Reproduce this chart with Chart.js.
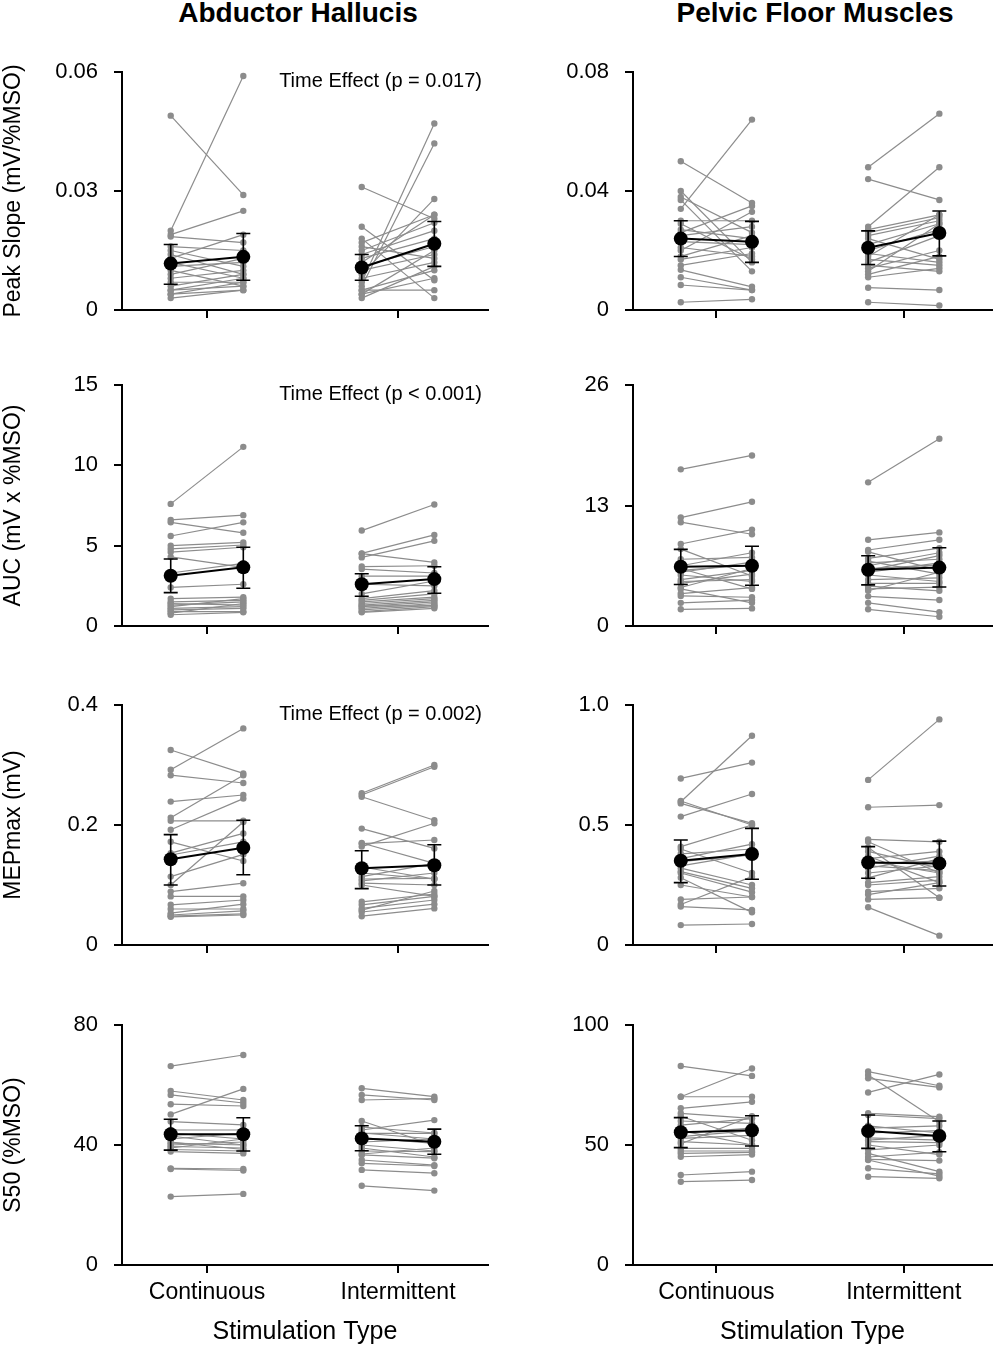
<!DOCTYPE html>
<html>
<head>
<meta charset="utf-8">
<script src="https://cdn.jsdelivr.net/npm/chart.js@4.4.0/dist/chart.umd.min.js"></script>
<style>
  html, body { margin: 0; padding: 0; background: #fff; }
  #page { position: relative; width: 999px; height: 1350px; overflow: hidden; font-family: "Liberation Sans", Arial, sans-serif; }
  .colTitle { position: absolute; top: 0; width: 400px; text-align: center; font-weight: bold; font-size: 28px; line-height: 26px; color: #000; }
  canvas { position: absolute; }
</style>
</head>
<body>
<div id="page">
  <div class="colTitle" style="left:98px">Abductor Hallucis</div>
  <div class="colTitle" style="left:615px">Pelvic Floor Muscles</div>
</div>
<script>
// categories / labels
const categories = ['Continuous', 'Intermittent']
const measures = ['Peak Slope (mV/%MSO)', 'AUC (mV x %MSO)', 'MEPmax (mV)', 'S50 (%MSO)']
const timeEffects = ['Time Effect (p = 0.017)', 'Time Effect (p < 0.001)', 'Time Effect (p = 0.002)', '']

// y ticks per row: [abductor, pelvic]
const ahTicks = [[0, 0.03, 0.06], [0, 5, 10, 15], [0, 0.2, 0.4], [0, 40, 80]]
const ahTickLabels = [['0', '0.03', '0.06'], ['0', '5', '10', '15'], ['0', '0.2', '0.4'], ['0', '40', '80']]
const pfTicks = [[0, 0.04, 0.08], [0, 13, 26], [0, 0.5, 1.0], [0, 50, 100]]
const pfTickLabels = [['0', '0.04', '0.08'], ['0', '13', '26'], ['0', '0.5', '1.0'], ['0', '50', '100']]

// --- Peak slope ---
const ahSlopeContPre  = [0.049, 0.020, 0.019, 0.0185, 0.016, 0.015, 0.014, 0.013, 0.012, 0.011, 0.010, 0.009, 0.008, 0.007, 0.006, 0.005, 0.005, 0.004, 0.003, 0.004]
const ahSlopeContPost = [0.029, 0.059, 0.025, 0.017, 0.015, 0.011, 0.009, 0.019, 0.008, 0.012, 0.006, 0.013, 0.010, 0.007, 0.009, 0.006, 0.008, 0.005, 0.005, 0.007]
const ahSlopeIntPre   = [0.031, 0.021, 0.018, 0.017, 0.016, 0.015, 0.014, 0.013, 0.012, 0.011, 0.010, 0.009, 0.008, 0.007, 0.006, 0.005, 0.005, 0.004, 0.004, 0.003]
const ahSlopeIntPost  = [0.023, 0.0075, 0.003, 0.024, 0.013, 0.022, 0.020, 0.018, 0.024, 0.016, 0.014, 0.028, 0.012, 0.047, 0.042, 0.010, 0.005, 0.015, 0.008, 0.011]
const ahSlopeMean = [0.0117, 0.0134, 0.0107, 0.0167]
const ahSlopeErr  = [[0.0065, 0.0165], [0.0075, 0.0193], [0.0075, 0.014], [0.011, 0.0223]]

const pfSlopeContPre  = [0.050, 0.040, 0.038, 0.037, 0.034, 0.030, 0.027, 0.026, 0.025, 0.023, 0.020, 0.018, 0.017, 0.015, 0.0135, 0.011, 0.0084, 0.0026, 0.021, 0.029]
const pfSlopeContPost = [0.036, 0.016, 0.026, 0.013, 0.064, 0.030, 0.024, 0.035, 0.028, 0.022, 0.033, 0.025, 0.021, 0.019, 0.0078, 0.0067, 0.0067, 0.0036, 0.018, 0.017]
const pfSlopeIntPre   = [0.048, 0.044, 0.028, 0.027, 0.026, 0.025, 0.024, 0.022, 0.020, 0.019, 0.017, 0.015, 0.014, 0.013, 0.012, 0.011, 0.0075, 0.0026, 0.016, 0.018]
const pfSlopeIntPost  = [0.066, 0.037, 0.048, 0.032, 0.031, 0.030, 0.017, 0.029, 0.027, 0.016, 0.015, 0.013, 0.020, 0.029, 0.018, 0.014, 0.0067, 0.0015, 0.025, 0.032]
const pfSlopeMean = [0.024, 0.0229, 0.0209, 0.0259]
const pfSlopeErr  = [[0.018, 0.030], [0.016, 0.0298], [0.0153, 0.0266], [0.0182, 0.0333]]

// --- AUC ---
const ahAucContPre  = [7.6, 6.6, 6.45, 5.6, 5.0, 4.8, 4.6, 4.3, 3.3, 2.4, 1.7, 1.5, 1.4, 1.3, 1.2, 1.1, 1.0, 0.9, 0.8, 0.7]
const ahAucContPost = [11.15, 6.9, 5.8, 6.45, 5.2, 5.04, 4.9, 3.65, 3.9, 2.6, 1.8, 1.6, 1.3, 1.5, 1.7, 1.2, 1.1, 0.9, 1.4, 0.85]
const ahAucIntPre   = [5.94, 4.52, 4.27, 4.5, 3.7, 3.54, 3.1, 2.6, 2.0, 1.6, 1.5, 1.4, 1.3, 1.2, 1.1, 1.0, 0.9, 0.85, 1.7, 1.25]
const ahAucIntPost  = [7.56, 5.67, 5.3, 3.96, 3.75, 3.3, 3.1, 2.5, 2.8, 2.0, 1.8, 1.7, 1.6, 1.5, 1.4, 1.3, 1.2, 1.1, 2.2, 1.25]
const ahAucMean = [3.13, 3.65, 2.6, 2.92]
const ahAucErr  = [[2.08, 4.17], [2.35, 4.9], [1.85, 3.25], [2.04, 3.69]]

const pfAucContPre  = [16.9, 11.7, 11.2, 8.85, 8.3, 6.5, 6.0, 5.5, 5.0, 4.6, 4.15, 3.5, 3.25, 2.5, 1.8, 6.2, 5.8, 4.8, 4.0, 7.2]
const pfAucContPost = [18.4, 13.4, 9.9, 10.4, 5.4, 7.9, 6.6, 4.8, 6.0, 5.6, 6.2, 4.15, 3.1, 2.8, 1.9, 4.0, 6.9, 5.0, 2.5, 7.4]
const pfAucIntPre   = [15.5, 9.3, 8.2, 8.0, 7.3, 6.5, 6.0, 5.5, 5.0, 4.6, 4.3, 3.8, 3.2, 2.5, 1.8, 6.2, 5.8, 7.0, 4.0, 6.8]
const pfAucIntPost  = [20.2, 10.1, 9.3, 6.0, 8.4, 7.9, 7.6, 4.8, 5.2, 4.6, 3.8, 5.8, 2.8, 1.5, 1.0, 6.6, 6.8, 5.6, 4.2, 7.2]
const pfAucMean = [6.4, 6.5, 6.07, 6.3]
const pfAucErr  = [[4.48, 8.27], [4.4, 8.6], [4.44, 7.58], [4.2, 8.45]]

// --- MEPmax ---
const ahMepContPre  = [0.325, 0.292, 0.283, 0.239, 0.212, 0.207, 0.192, 0.153, 0.150, 0.114, 0.100, 0.089, 0.081, 0.067, 0.053, 0.050, 0.048, 0.047, 0.172, 0.060]
const ahMepContPost = [0.286, 0.361, 0.27, 0.25, 0.283, 0.207, 0.244, 0.186, 0.172, 0.151, 0.205, 0.103, 0.081, 0.075, 0.068, 0.057, 0.052, 0.050, 0.14, 0.060]
const ahMepIntPre   = [0.253, 0.247, 0.250, 0.194, 0.169, 0.164, 0.114, 0.110, 0.103, 0.12, 0.067, 0.061, 0.055, 0.048, 0.170, 0.100, 0.107, 0.130, 0.058, 0.072]
const ahMepIntPost  = [0.300, 0.208, 0.297, 0.161, 0.175, 0.203, 0.136, 0.111, 0.10, 0.11, 0.081, 0.075, 0.068, 0.061, 0.136, 0.081, 0.12, 0.11, 0.09, 0.085]
const ahMepMean = [0.143, 0.162, 0.128, 0.133]
const ahMepErr  = [[0.100, 0.184], [0.117, 0.208], [0.094, 0.157], [0.1, 0.167]]

const pfMepContPre  = [0.694, 0.597, 0.59, 0.535, 0.41, 0.40, 0.347, 0.33, 0.306, 0.30, 0.25, 0.19, 0.169, 0.16, 0.083, 0.32, 0.36, 0.28, 0.60, 0.38]
const pfMepContPost = [0.76, 0.872, 0.507, 0.629, 0.5, 0.30, 0.375, 0.38, 0.236, 0.22, 0.2, 0.2, 0.285, 0.146, 0.0875, 0.25, 0.42, 0.136, 0.50, 0.40]
const pfMepIntPre   = [0.688, 0.574, 0.44, 0.43, 0.406, 0.39, 0.36, 0.34, 0.32, 0.30, 0.28, 0.26, 0.222, 0.21, 0.19, 0.157, 0.35, 0.37, 0.33, 0.25]
const pfMepIntPost  = [0.94, 0.583, 0.43, 0.3, 0.197, 0.32, 0.39, 0.35, 0.37, 0.33, 0.36, 0.285, 0.236, 0.26, 0.197, 0.039, 0.3, 0.26, 0.31, 0.27]
const pfMepMean = [0.351, 0.379, 0.344, 0.34]
const pfMepErr  = [[0.26, 0.4375], [0.274, 0.486], [0.278, 0.41], [0.246, 0.433]]

// --- S50 ---
const ahS50ContPre  = [66.3, 58, 56.7, 53.6, 50.2, 47.8, 44, 42, 40.6, 40, 39.5, 38.5, 37.8, 32.2, 32, 22.8, 41, 39, 45, 43]
const ahS50ContPost = [70, 55, 54, 53, 58.7, 46.7, 42, 44, 40, 41, 39, 38, 37.2, 32, 31.5, 23.7, 38.5, 42, 45, 40]
const ahS50IntPre   = [58.9, 56.7, 55, 48, 45, 43.9, 42, 41, 40, 39, 38, 36.7, 35, 33.9, 31.7, 26.4, 44, 42.5, 37, 46]
const ahS50IntPost  = [56.1, 55, 55.5, 40, 48.3, 43.9, 41, 42, 38, 36, 37.8, 35.6, 33.3, 33, 30.6, 24.8, 42, 40.5, 39, 44]
const ahS50Mean = [43.6, 43.6, 42.2, 41.1]
const ahS50Err  = [[38.3, 48.6], [38, 49.1], [38.1, 46.4], [36.9, 45.3]]

const pfS50ContPre  = [82.9, 70.1, 70.1, 65.3, 63.2, 62, 58.3, 55, 52.8, 51.4, 48.6, 47.5, 46.5, 45.1, 37.5, 34.7, 60, 53.5, 50.5, 56]
const pfS50ContPost = [78.8, 81.9, 70.1, 68, 61.1, 52, 61, 57, 54, 50, 48.6, 47.5, 46.9, 46, 38.9, 35.4, 59, 56, 62, 50]
const pfS50IntPre   = [80.6, 79.2, 77.8, 71.9, 63.2, 62.5, 58, 55, 53, 51.4, 48, 46.5, 45, 44, 43.75, 40.3, 36.8, 52, 50, 57]
const pfS50IntPost  = [74.7, 59.7, 74, 79.4, 61.8, 61, 55, 56, 52, 51, 50, 38.9, 47, 43.5, 37, 38, 36.1, 54, 46, 58]
const pfS50Mean = [55.3, 56.1, 55.8, 53.8]
const pfS50Err  = [[48.9, 61.4], [49.6, 62.2], [48.6, 62.5], [47.2, 60]]

;(function () {
  'use strict'

  const FONT = '"Liberation Sans", Arial, sans-serif'
  const GRAY = '#8c8c8c'
  const catX = [1, 2]
  const OFF = 0.19 // pre/post offset around category centre
  const meanX = [1 - OFF, 1 + OFF, 2 - OFF, 2 + OFF]

  Chart.defaults.font.family = FONT
  Chart.defaults.color = '#000'

  // panels built from the arrays above: [row][col]
  const panelRows = [
    [[ahSlopeContPre, ahSlopeContPost, ahSlopeIntPre, ahSlopeIntPost, ahSlopeMean, ahSlopeErr],
     [pfSlopeContPre, pfSlopeContPost, pfSlopeIntPre, pfSlopeIntPost, pfSlopeMean, pfSlopeErr]],
    [[ahAucContPre, ahAucContPost, ahAucIntPre, ahAucIntPost, ahAucMean, ahAucErr],
     [pfAucContPre, pfAucContPost, pfAucIntPre, pfAucIntPost, pfAucMean, pfAucErr]],
    [[ahMepContPre, ahMepContPost, ahMepIntPre, ahMepIntPost, ahMepMean, ahMepErr],
     [pfMepContPre, pfMepContPost, pfMepIntPre, pfMepIntPost, pfMepMean, pfMepErr]],
    [[ahS50ContPre, ahS50ContPost, ahS50IntPre, ahS50IntPost, ahS50Mean, ahS50Err],
     [pfS50ContPre, pfS50ContPost, pfS50IntPre, pfS50IntPost, pfS50Mean, pfS50Err]]
  ]

  // layout (pixels)
  const colBox = [{ left: 0, width: 495, yWidth: 122, padRight: 7 }, { left: 510, width: 489, yWidth: 123, padRight: 0 }]
  const rowTop = [72, 385, 705, 1025]
  const rowBottom = [310, 626, 945, 1265]
  const PAD_TOP = 32 // y tick padding adds to the scale's own top padding

  // gray subject lines sit under the means (higher order = drawn earlier)
  function pairSets(pre, post, cx) {
    return pre.map((v, i) => ({
      data: [{ x: cx - OFF, y: v }, { x: cx + OFF, y: post[i] }],
      order: 2,
      showLine: true, borderColor: GRAY, backgroundColor: GRAY, borderWidth: 1.2,
      pointRadius: 3.2, pointBorderWidth: 0, pointHoverRadius: 3.2
    }))
  }

  function meanSet(mean, k) {
    return {
      data: [{ x: meanX[k], y: mean[k] }, { x: meanX[k + 1], y: mean[k + 1] }],
      order: 0,
      showLine: true, borderColor: '#000', backgroundColor: '#000', borderWidth: 2,
      pointRadius: 7, pointBorderWidth: 0, pointHoverRadius: 7
    }
  }

  function errorPlugin(err, note) {
    return {
      id: 'errBars',
      afterDatasetsDraw(chart) {
        const { ctx, chartArea, scales: { x, y } } = chart
        ctx.save()
        ctx.strokeStyle = '#000'
        ctx.lineWidth = 1.6
        err.forEach(([lo, hi], k) => {
          const px = x.getPixelForValue(meanX[k])
          const yl = y.getPixelForValue(lo), yh = y.getPixelForValue(hi)
          ctx.beginPath()
          ctx.moveTo(px, yl); ctx.lineTo(px, yh)
          ctx.moveTo(px - 7, yl); ctx.lineTo(px + 7, yl)
          ctx.moveTo(px - 7, yh); ctx.lineTo(px + 7, yh)
          ctx.stroke()
        })
        if (note) {
          ctx.fillStyle = '#000'
          ctx.font = '20px ' + FONT
          ctx.textAlign = 'right'
          ctx.textBaseline = 'middle'
          ctx.fillText(note, chartArea.right - 6, chartArea.top + 9.5)
        }
        ctx.restore()
      }
    }
  }

  const page = document.getElementById('page')

  panelRows.forEach((row, r) => {
    row.forEach((p, c) => {
      const [contPre, contPost, intPre, intPost, mean, err] = p
      const box = colBox[c]
      const bottomRow = r === panelRows.length - 1
      const xHeight = bottomRow ? 1350 - rowBottom[r] : 32
      const top = rowTop[r] - PAD_TOP
      const height = PAD_TOP + (rowBottom[r] - rowTop[r]) + xHeight
      const ticks = c === 0 ? ahTicks[r] : pfTicks[r]
      const tickLabels = c === 0 ? ahTickLabels[r] : pfTickLabels[r]

      const canvas = document.createElement('canvas')
      canvas.width = box.width
      canvas.height = height
      canvas.style.left = box.left + 'px'
      canvas.style.top = top + 'px'
      canvas.style.width = box.width + 'px'
      canvas.style.height = height + 'px'
      page.appendChild(canvas)

      const datasets = pairSets(contPre, contPost, catX[0])
        .concat(pairSets(intPre, intPost, catX[1]))
        .concat([meanSet(mean, 0), meanSet(mean, 2)])

      // eslint-disable-next-line no-undef
      new Chart(canvas.getContext('2d'), {
        type: 'scatter',
        data: { datasets },
        options: {
          responsive: false,
          animation: false,
          events: [],
          layout: { padding: { top: PAD_TOP, right: box.padRight, left: 0, bottom: 0 } },
          plugins: { legend: { display: false }, tooltip: { enabled: false } },
          scales: {
            x: {
              type: 'linear', min: 0.555, max: 2.471,
              afterBuildTicks: (s) => { s.ticks = catX.map((v) => ({ value: v })) },
              afterFit: (s) => { s.height = xHeight },
              ticks: { callback: (v, i) => (bottomRow ? categories[i] : ''), font: { size: 23 }, color: '#000', padding: 6, maxRotation: 0, autoSkip: false },
              grid: { drawOnChartArea: false, drawTicks: true, tickLength: 8, color: '#000', lineWidth: 2 },
              border: { display: true, color: '#000', width: 2 },
              title: { display: bottomRow, text: 'Stimulation Type', font: { size: 25 }, color: '#000', padding: { top: 0, bottom: 3 } }
            },
            y: {
              type: 'linear', min: 0, max: ticks[ticks.length - 1],
              afterBuildTicks: (s) => { s.ticks = ticks.map((v) => ({ value: v })) },
              afterFit: (s) => { s.width = box.yWidth },
              ticks: { callback: (v, i) => tickLabels[i], font: { size: 22 }, color: '#000', padding: 16 },
              grid: { drawOnChartArea: false, drawTicks: true, tickLength: 8, color: '#000', lineWidth: 2 },
              border: { display: true, color: '#000', width: 2 },
              title: { display: c === 0, text: measures[r], font: { size: 23 }, color: '#000', padding: { top: 0, bottom: 0 } }
            }
          }
        },
        plugins: [errorPlugin(err, c === 0 ? timeEffects[r] : '')]
      })
    })
  })
})()
</script>
</body>
</html>
